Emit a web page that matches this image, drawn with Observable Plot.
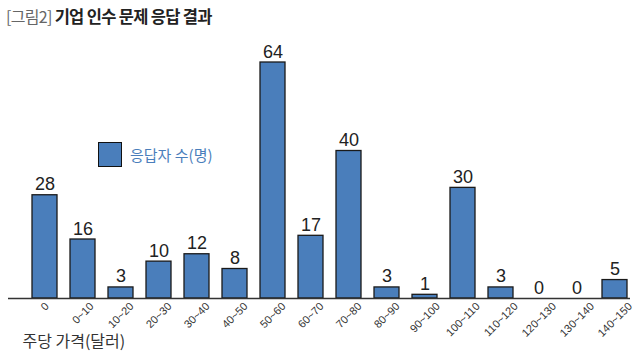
<!DOCTYPE html>
<html><head><meta charset="utf-8">
<script src="https://cdn.jsdelivr.net/npm/d3@7"></script>
<script src="https://cdn.jsdelivr.net/npm/@observablehq/plot@0.6"></script>
<style>
body{margin:0;background:#fff;width:640px;height:355px;position:relative;overflow:hidden;font-family:"Noto Sans CJK KR","Noto Sans",sans-serif}
#chart{position:absolute;left:0;top:0}
#title{position:absolute;left:6px;top:4px;font-size:16.5px;white-space:nowrap;letter-spacing:-0.7px}
#title .pre{color:#666;font-weight:400;font-size:16px}
#title .main{color:#222;font-weight:700}
#legend{position:absolute;left:98px;top:142px;display:flex;align-items:center}
#legend .sw{width:24px;height:25px;background:#4a7ebb;border:1.5px solid #111;box-sizing:border-box}
#legend .lb{margin-left:8px;color:#4a7ebb;font-size:15px}
</style></head><body>
<div id="chart"></div>
<div id="title"></div>
<div id="legend"><div class="sw"></div><div class="lb"></div></div>
<script>
const categories = ["0","0~10","10~20","20~30","30~40","40~50","50~60","60~70","70~80","80~90","90~100","100~110","110~120","120~130","130~140","140~150"];
const counts = [28,16,3,10,12,8,64,17,40,3,1,30,3,0,0,5];
const seriesName = "응답자 수(명)";
const xTitle = "주당 가격(달러)";
const titlePrefix = "[그림2]";
const titleMain = "기업 인수 문제 응답 결과";

const data = categories.map((c, i) => ({cat: c, n: counts[i]}));

document.querySelector("#title").innerHTML = `<span class="pre">${titlePrefix}</span> <span class="main">${titleMain}</span>`;
document.querySelector("#legend .lb").textContent = seriesName;

const chart = Plot.plot({
  width: 640, height: 355,
  marginTop: 62, marginBottom: 57, marginLeft: 24, marginRight: 5,
  style: {fontFamily: "'Liberation Sans', Arial, sans-serif", background: "transparent"},
  x: {domain: categories, paddingInner: 0.333, paddingOuter: 0, label: null},
  y: {domain: [0, 64], axis: null},
  marks: [
    Plot.barY(data, {x: "cat", y: "n", fill: "#4a7ebb", stroke: "#1a1a1a", strokeWidth: 1.3}),
    Plot.text(data, {x: "cat", y: "n", text: d => String(d.n), dy: -5, lineAnchor: "bottom", fontSize: 18, fill: "#222"}),
    Plot.ruleY([0], {stroke: "#333", strokeWidth: 1.5, insetLeft: -16, insetRight: 5}),
    Plot.axisX({tickSize: 0, tickPadding: 6, tickRotate: -45, fontSize: 11, fill: "#333", label: null}),
    Plot.text([xTitle], {frameAnchor: "bottom-left", dx: -2, dy: 43, textAnchor: "start", lineAnchor: "middle", fontSize: 16, fill: "#333", fontFamily: "'Noto Sans CJK KR', sans-serif"})
  ]
});
document.querySelector("#chart").append(chart);

// center each rotated tick label horizontally under its bar
chart.querySelectorAll('g[aria-label="x-axis tick label"] text').forEach(t => {
  const L = t.getComputedTextLength();
  const shift = L * Math.SQRT1_2 / 2;
  const tr = t.getAttribute("transform") || "";
  t.setAttribute("transform", `translate(${shift.toFixed(1)},0) ` + tr);
});
</script>
</body></html>
